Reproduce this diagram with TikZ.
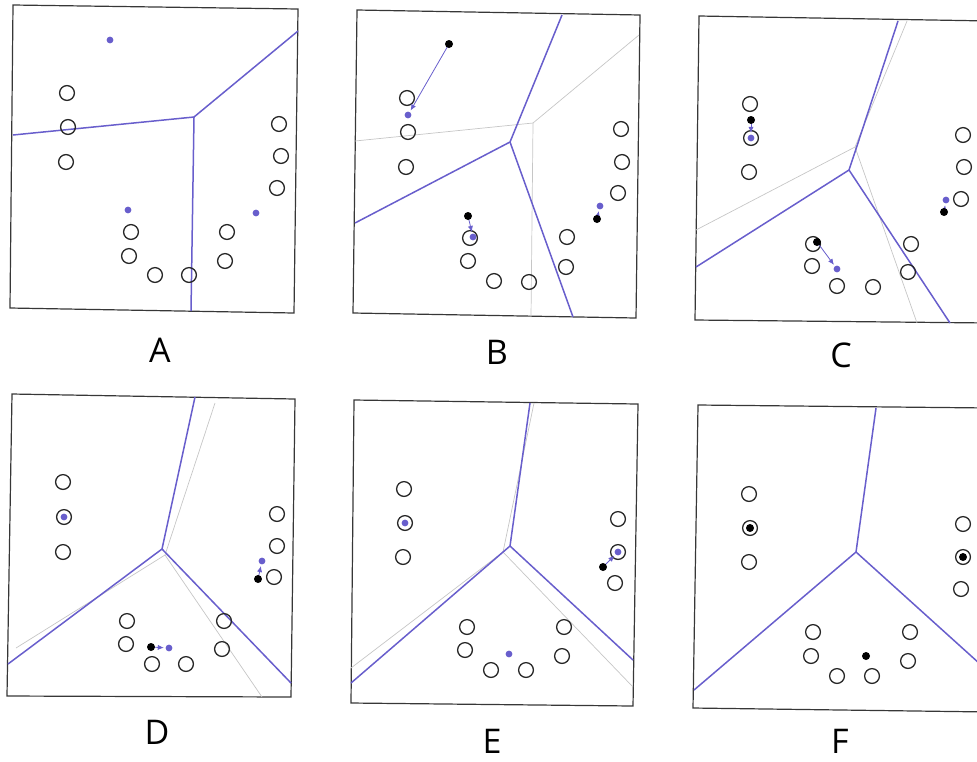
\documentclass[tikz,border=0pt]{standalone}
\usepackage{fontspec}
\setsansfont{Open Sans}
\usepackage{tikz}
\usetikzlibrary{arrows.meta}
\definecolor{cellblue}{RGB}{104,94,204}
\definecolor{framegray}{RGB}{55,55,55}

\begin{document}
\begin{tikzpicture}[
  x=0.5pt, y=-0.5pt,
  >={Latex[length=3pt,width=2.6pt]},
  frame/.style={framegray, line width=0.6pt},
  cell/.style={cellblue, line width=0.75pt},
  oldcell/.style={gray!45, line width=0.35pt},
  site/.style={black!85, line width=0.65pt},
  move/.style={cellblue, line width=0.4pt, ->, shorten >=2.6pt},
  panel/.style={inner sep=0pt, font=\sffamily\fontsize{17}{20}\selectfont}
]
  \useasboundingbox (0,0) rectangle (977,761);
  \clip (0,0) rectangle (977,761);

  % ---- A
  \draw[frame] (13,5) -- (298,9) -- (294,313) -- (10,308) -- cycle;
  \coordinate (A-v) at (194,117);
  \draw[cell] (13,135) -- (A-v) -- (298,31);
  \draw[cell] (A-v) -- (191,311);
  \foreach \p in {(67,93),(68,127),(66,162),(279,124),(281,156),(277,188),
                  (131,232),(129,256),(155,275),(189,275),(227,232),(225,261)}
    \draw[site] \p circle (3.7pt);
  \foreach \p in {(110,40),(128,210),(256,213)}
    \fill[cellblue] \p circle (1.7pt);
  \node[panel] (labA) at (160,350) {A};

  % ---- B
  \draw[frame] (357,10) -- (640,15) -- (636,318) -- (353,313) -- cycle;
  \coordinate (B-u) at (533,123);
  \draw[oldcell] (355,141) -- (B-u) -- (639,35);
  \draw[oldcell] (B-u) -- (531,317);
  \coordinate (B-v) at (510,142);
  \draw[cell] (355,223) -- (B-v) -- (562,15);
  \draw[cell] (B-v) -- (573,317);
  \foreach \p in {(407,98),(408,132),(406,167),(621,129),(622,162),(618,193),
                  (470,238),(468,261),(494,281),(529,282),(567,237),(566,267)}
    \draw[site] \p circle (3.7pt);
  \coordinate (B-k1) at (449,44);  \coordinate (B-q1) at (408,115);
  \coordinate (B-k2) at (468,216); \coordinate (B-q2) at (473,237);
  \coordinate (B-k3) at (597,219); \coordinate (B-q3) at (600,206);
  \foreach \i in {1,2,3} {
    \draw[move] (B-k\i) -- (B-q\i);
    \fill[black] (B-k\i) circle (2pt);
    \fill[cellblue] (B-q\i) circle (1.7pt);
  }
  \node[panel] (labB) at (497,352) {B};

  % ---- C
  \draw[frame] (990,21) -- (699,16) -- (695,320) -- (990,323);
  \coordinate (C-u) at (855,147);
  \draw[oldcell] (696,230) -- (C-u) -- (907,21);
  \draw[oldcell] (C-u) -- (917,323);
  \coordinate (C-v) at (849,170);
  \draw[cell] (696,267) -- (C-v) -- (855,152) -- (898,21);
  \draw[cell] (C-v) -- (950,323);
  \foreach \p in {(750,104),(751,138),(749,172),(963,135),(964,167),(961,199),
                  (813,244),(812,266),(837,286),(873,287),(911,244),(908,272)}
    \draw[site] \p circle (3.7pt);
  \coordinate (C-k1) at (751,120); \coordinate (C-q1) at (751,138);
  \coordinate (C-k2) at (944,212); \coordinate (C-q2) at (946,200);
  \coordinate (C-k3) at (817,242); \coordinate (C-q3) at (837,269);
  \foreach \i in {1,2,3} {
    \draw[move] (C-k\i) -- (C-q\i);
    \fill[black] (C-k\i) circle (2pt);
    \fill[cellblue] (C-q\i) circle (1.7pt);
  }
  \node[panel] (labC) at (841,355) {C};

  % ---- D
  \draw[frame] (12,394) -- (295,399) -- (291,697) -- (7,696) -- cycle;
  \coordinate (D-u) at (165,555);
  \draw[oldcell] (16,648) -- (D-u) -- (215,403);
  \draw[oldcell] (D-u) -- (262,697);
  \coordinate (D-v) at (162,549);
  \draw[cell] (8,664) -- (D-v) -- (195,397);
  \draw[cell] (D-v) -- (291,683);
  \foreach \p in {(63,482),(64,517),(63,552),(277,514),(277,546),(274,577),
                  (127,621),(126,644),(152,664),(186,664),(224,621),(222,649)}
    \draw[site] \p circle (3.7pt);
  \fill[cellblue] (64,517) circle (1.7pt);
  \coordinate (D-k1) at (258,579); \coordinate (D-q1) at (262,561);
  \coordinate (D-k2) at (151,647); \coordinate (D-q2) at (169,648);
  \foreach \i in {1,2} {
    \draw[move] (D-k\i) -- (D-q\i);
    \fill[black] (D-k\i) circle (2pt);
    \fill[cellblue] (D-q\i) circle (1.7pt);
  }
  \node[panel] (labD) at (157,732) {D};

  % ---- E
  \draw[frame] (354,400) -- (638,404) -- (633,706) -- (351,703) -- cycle;
  \coordinate (E-u) at (503,552);
  \draw[oldcell] (351,668) -- (E-u) -- (534,403);
  \draw[oldcell] (E-u) -- (633,687);
  \coordinate (E-v) at (510,546);
  \draw[cell] (351,683) -- (E-v) -- (530,403);
  \draw[cell] (E-v) -- (633,660);
  \foreach \p in {(404,489),(405,523),(403,557),(618,519),(618,552),(615,583),
                  (467,627),(465,650),(491,670),(526,670),(564,627),(562,656)}
    \draw[site] \p circle (3.7pt);
  \foreach \p in {(405,523),(509,654)}
    \fill[cellblue] \p circle (1.7pt);
  \coordinate (E-k1) at (603,567); \coordinate (E-q1) at (618,552);
  \draw[move] (E-k1) -- (E-q1);
  \fill[black] (E-k1) circle (2pt);
  \fill[cellblue] (E-q1) circle (1.7pt);
  \node[panel] (labE) at (492,741) {E};

  % ---- F
  \draw[frame] (990,408) -- (698,405) -- (693,708) -- (990,712);
  \coordinate (F-v) at (856,552);
  \draw[cell] (694,690) -- (F-v) -- (876,408);
  \draw[cell] (F-v) -- (990,673);
  \foreach \p in {(749,494),(750,528),(749,562),(963,524),(963,557),(961,589),
                  (813,632),(811,656),(837,676),(872,676),(910,632),(908,661)}
    \draw[site] \p circle (3.7pt);
  \foreach \p in {(750,528),(963,557),(866,656)}
    \fill[black] \p circle (2pt);
  \node[panel] (labF) at (840,741) {F};
\end{tikzpicture}
\end{document}
